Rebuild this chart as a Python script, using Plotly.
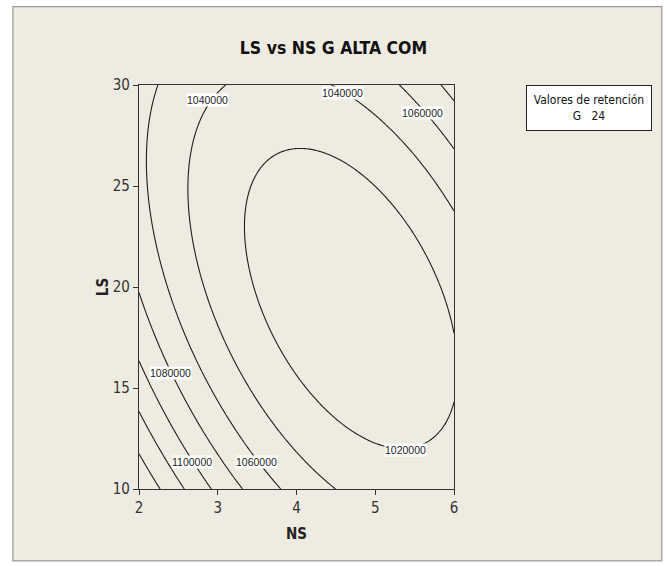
import numpy as np
import plotly.graph_objects as go

# Quadratic response surface for G ALTA COM (centred form):
# G = g_min + a*(NS-ns0)^2 + b*(LS-ls0)^2 + c*(NS-ns0)*(LS-ls0)
ns_center = 4.693
ls_center = 19.43
g_min = 1005106
coef_ns2 = 10526
coef_ls2 = 349.5
coef_ns_ls = 1832

ns_range = [2, 6]
ls_range = [10, 30]
ns_ticks = [2, 3, 4, 5, 6]
ls_ticks = [10, 15, 20, 25, 30]
level_start, level_end, level_step = 1020000, 1140000, 20000

# contour labels: level and where it is written along its line (NS, LS)
label_levels = [1040000, 1040000, 1060000, 1080000, 1100000, 1060000, 1020000]
label_ns = [2.87, 4.59, 5.60, 2.40, 2.67, 3.49, 5.39]
label_ls = [29.25, 29.58, 28.60, 15.75, 11.36, 11.36, 11.95]

legend_title = "Valores de retención"
legend_value = "G\u00a0\u00a0\u00a024"

# evaluate the fitted surface on a grid over the design region
ns = np.linspace(ns_range[0], ns_range[1], 241)
ls = np.linspace(ls_range[0], ls_range[1], 241)
NS, LS = np.meshgrid(ns, ls)
dx = NS - ns_center
dy = LS - ls_center
G = g_min + coef_ns2 * dx**2 + coef_ls2 * dy**2 + coef_ns_ls * dx * dy

narrow = "Liberation Sans Narrow, Arial Narrow, DejaVu Sans Condensed, sans-serif"
label_font = "Liberation Sans, Arial, sans-serif"

fig = go.Figure()
fig.add_trace(go.Contour(
    x=ns, y=ls, z=G,
    contours=dict(start=level_start, end=level_end, size=level_step,
                  coloring="lines", showlabels=False),
    colorscale=[[0, "#1e1e1e"], [1, "#1e1e1e"]],
    line=dict(width=1.1, smoothing=1),
    showscale=False,
    hoverinfo="skip",
))

# horizontal level labels, each on a white patch that breaks its line
for lev, x, y in zip(label_levels, label_ns, label_ls):
    fig.add_annotation(x=x, y=y, xref="x", yref="y", text=f"{lev:d}",
                       showarrow=False, bgcolor="white", borderpad=0,
                       font=dict(family=label_font, size=10.5, color="#222"))

W, H = 667, 566
L, R, T, B = 138.5, 212.5, 84.5, 77
pw, ph = W - L - R, H - T - B

def px_x(p):
    return (p - L) / pw

def px_y(p):
    return (H - B - p) / ph

# beige figure panel with a thin grey frame
fig.add_shape(type="rect", xref="paper", yref="paper",
              x0=px_x(12), x1=px_x(663), y0=px_y(561), y1=px_y(6),
              fillcolor="#EEEBE0", line=dict(color="#9a9a9a", width=1.2), layer="below")

# retention-value box
fig.add_annotation(xref="paper", yref="paper", x=px_x(590), y=px_y(84),
                   xanchor="center", yanchor="top", showarrow=False,
                   text=legend_title + "<br>" + legend_value,
                   font=dict(family=narrow, size=12, color="#111"),
                   align="center", bgcolor="white", bordercolor="#222",
                   borderwidth=1, borderpad=2, width=120, height=40)

axis_common = dict(showline=True, linecolor="#333", linewidth=1.2, mirror=True,
                   ticks="outside", ticklen=5, tickcolor="#333", tickwidth=1.2,
                   showgrid=False, zeroline=False,
                   tickfont=dict(family=narrow, size=15, color="#333"))

fig.update_layout(
    width=W, height=H,
    margin=dict(l=L, r=R, t=T, b=B, pad=0),
    paper_bgcolor="white", plot_bgcolor="white",
    title=dict(text="LS vs NS G ALTA COM", x=0.5, xanchor="center",
               y=1 - 48 / H, yanchor="middle",
               font=dict(family=narrow, size=17.5, color="#111", weight="bold")),
    xaxis=dict(range=ns_range, tickvals=ns_ticks, **axis_common,
               title=dict(text="NS", standoff=12,
                          font=dict(family=narrow, size=15, color="#222", weight="bold"))),
    yaxis=dict(range=ls_range, tickvals=ls_ticks, **axis_common,
               title=dict(text="LS", standoff=0,
                          font=dict(family=narrow, size=15, color="#222", weight="bold"))),
    showlegend=False,
)

fig.write_html("out.html")
